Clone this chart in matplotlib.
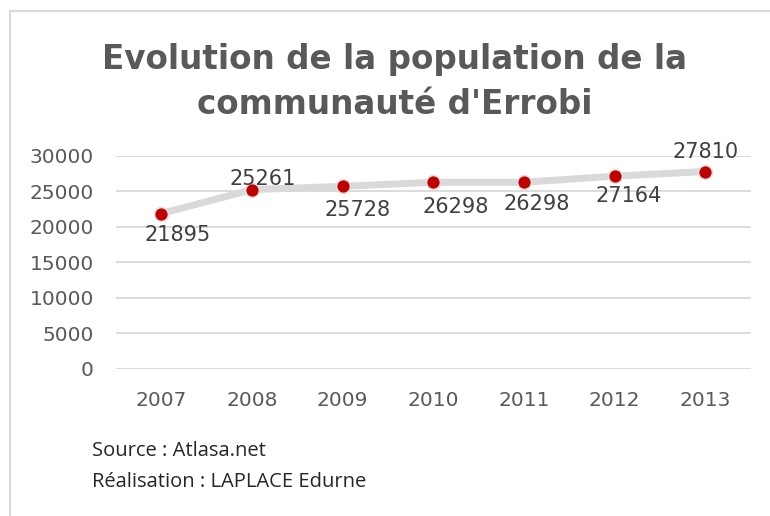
import matplotlib
matplotlib.use("Agg")
import matplotlib.pyplot as plt
from matplotlib.lines import Line2D

# ---------------------------
# Data
# ---------------------------
years = ["2007", "2008", "2009", "2010", "2011", "2012", "2013"]
population = [21895, 25261, 25728, 26298, 26298, 27164, 27810]
y_ticks = [0, 5000, 10000, 15000, 20000, 25000, 30000]

# label offsets in points (dx, dy), as placed in the original
label_offsets = [(12, -15.5), (8, 8), (11, -17), (16, -18), (9, -16), (10, -14), (0, 14)]

title_lines = ["Evolution de la population de la", "communauté d'Errobi"]
source_lines = ["Source : Atlasa.net", "Réalisation : LAPLACE Edurne"]

grey_txt = "#595959"
grid_col = "#D9D9D9"
red = "#C00000"

fig = plt.figure(figsize=(7.7, 5.16), dpi=100)
ax = fig.add_axes([0.1506, 0.2849, 0.8244, 0.4128])

x = list(range(len(years)))
ax.plot(x, population, color=grid_col, linewidth=5, solid_capstyle="round", zorder=2)
ax.plot(x, population, linestyle="none", marker="o", markersize=10,
        markerfacecolor=red, markeredgecolor="#E0E0E0", markeredgewidth=1.2, zorder=3)

for xi, val, (dx, dy) in zip(x, population, label_offsets):
    ax.annotate(str(val), (xi, val), xytext=(dx, dy), textcoords="offset points",
                ha="center", va="center", fontsize=15, color="#404040", zorder=4)

ax.set_xlim(-0.5, len(years) - 0.5)
ax.set_ylim(0, 30000)
ax.set_yticks(y_ticks)
ax.set_yticklabels([str(v) for v in y_ticks])
ax.set_xticks(x)
ax.set_xticklabels(years)
ax.tick_params(axis="both", length=0, labelsize=14.5, labelcolor=grey_txt)
ax.tick_params(axis="y", pad=16)
ax.tick_params(axis="x", pad=16)
ax.grid(axis="y", color=grid_col, linewidth=1.3, zorder=0)
for s in ax.spines.values():
    s.set_visible(False)

# title, one text per line (baselines as in the original)
for line, yb in zip(title_lines, [0.866, 0.779]):
    fig.text(0.513, yb, line, ha="center", va="baseline", fontsize=23.5,
             fontweight="bold", color=grey_txt)

# source
for line, yb in zip(source_lines, [0.117, 0.056]):
    fig.text(0.119, yb, line, ha="left", va="baseline", fontsize=14.5,
             color="#262626", family="Open Sans")

# chart frame (left and top edges visible)
fig.add_artist(Line2D([0.013, 0.013], [0.0, 0.978], color=grid_col, linewidth=1.5))
fig.add_artist(Line2D([0.013, 1.0], [0.978, 0.978], color=grid_col, linewidth=1.5))

fig.savefig("out.png", dpi=100, facecolor="white")
